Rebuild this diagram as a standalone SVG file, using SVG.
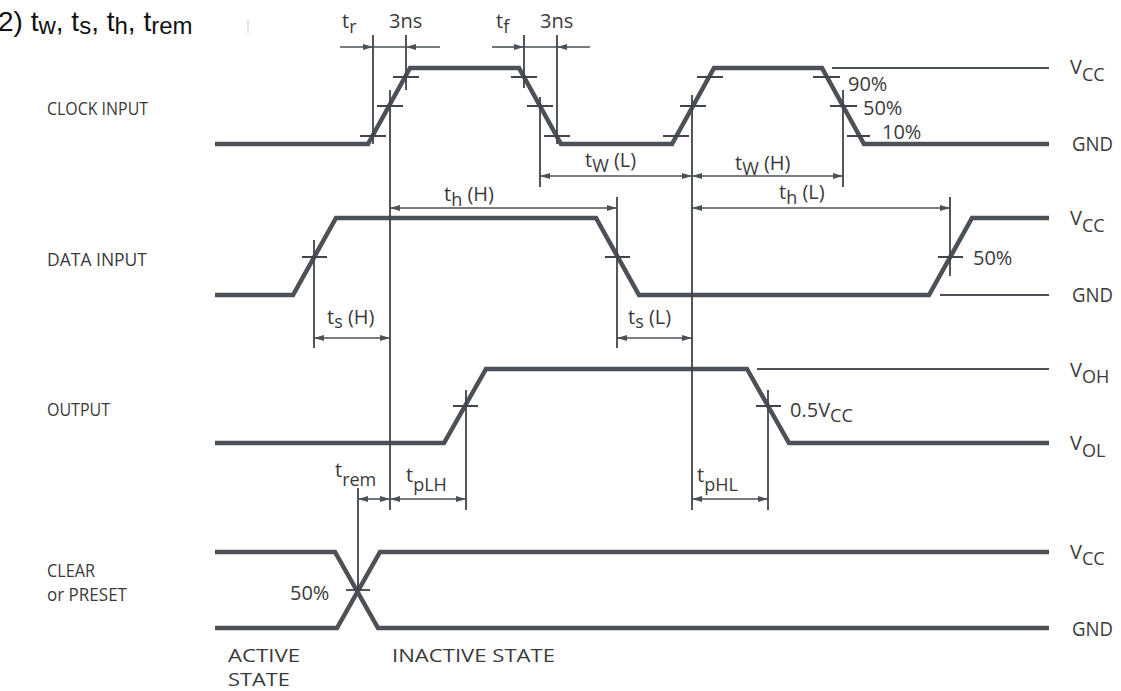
<svg xmlns="http://www.w3.org/2000/svg" width="1121" height="691" viewBox="0 0 1121 691">
<defs>
<marker id="ah" viewBox="0 0 10 6" refX="10" refY="3" markerWidth="10" markerHeight="6" markerUnits="userSpaceOnUse" orient="auto-start-reverse"><path d="M0,0 L10,3 L0,6 Z" fill="#4b5157"/></marker>
<style>
.sig{fill:none;stroke:#4b5157;stroke-width:4.5;stroke-linejoin:miter}
.ref{fill:none;stroke:#4b5157;stroke-width:2}
.ext{fill:none;stroke:#3f454b;stroke-width:1.8}
.tick{fill:none;stroke:#3f454b;stroke-width:1.8}
.dim{fill:none;stroke:#4b5157;stroke-width:1.6}
.lbl{font-family:"Open Sans","Noto Sans",sans-serif;font-size:20px;fill:#3a3a3a}
.sub{font-size:18px}
.name{font-family:"Open Sans","Noto Sans",sans-serif;font-size:19px;fill:#3a3a3a}
.ttl{font-family:"Liberation Sans",Arial,sans-serif;font-size:28px;fill:#111}
.ts{font-size:24px}
</style>
</defs>
<rect width="1121" height="691" fill="#ffffff"/>

<g id="title">
<text class="ttl" x="-2" y="31">2) t<tspan class="ts" dy="3">w</tspan><tspan dy="-3">, t</tspan><tspan class="ts" dy="3">s</tspan><tspan dy="-3">, t</tspan><tspan class="ts" dy="3">h</tspan><tspan dy="-3">, t</tspan><tspan class="ts" dy="3">rem</tspan></text>
<line x1="248" y1="20" x2="248" y2="33" stroke="#c8c8c8" stroke-width="1"/>
</g>

<g id="row-labels">
<text class="name" x="47" y="115" textLength="101" lengthAdjust="spacingAndGlyphs">CLOCK INPUT</text>
<text class="name" x="47" y="266" textLength="100" lengthAdjust="spacingAndGlyphs">DATA INPUT</text>
<text class="name" x="47" y="416" textLength="63" lengthAdjust="spacingAndGlyphs">OUTPUT</text>
<text class="name" x="47" y="577" textLength="48" lengthAdjust="spacingAndGlyphs">CLEAR</text>
<text class="name" x="47" y="601" textLength="80" lengthAdjust="spacingAndGlyphs">or PRESET</text>
<text class="name" x="228" y="662" textLength="72" lengthAdjust="spacingAndGlyphs">ACTIVE</text>
<text class="name" x="228" y="686" textLength="62" lengthAdjust="spacingAndGlyphs">STATE</text>
<text class="name" x="392" y="662" textLength="163" lengthAdjust="spacingAndGlyphs">INACTIVE STATE</text>
</g>

<g id="level-labels">
<text class="lbl" x="1070" y="74">V<tspan class="sub" dy="7">CC</tspan></text>
<text class="lbl" x="1072" y="151" textLength="41" lengthAdjust="spacingAndGlyphs">GND</text>
<text class="lbl" x="1070" y="225">V<tspan class="sub" dy="7">CC</tspan></text>
<text class="lbl" x="1072" y="302" textLength="41" lengthAdjust="spacingAndGlyphs">GND</text>
<text class="lbl" x="1070" y="377">V<tspan class="sub" dy="6">OH</tspan></text>
<text class="lbl" x="1070" y="450">V<tspan class="sub" dy="7">OL</tspan></text>
<text class="lbl" x="1070" y="559">V<tspan class="sub" dy="6">CC</tspan></text>
<text class="lbl" x="1072" y="636" textLength="41" lengthAdjust="spacingAndGlyphs">GND</text>
</g>

<g id="clock-input">
<path class="sig" d="M215,144 H368 L410,68 H519 L561,144 H672 L714,68 H822 L864,144 H1049"/>
<line class="ref" x1="832" y1="68" x2="1049" y2="68"/>
<path class="tick" d="M360,136 H386 M377,106 H403 M393,77 H419 M511,77 H537 M527,106 H553 M544,136 H570 M663,136 H689 M680,106 H706 M697,77 H723 M813,77 H840 M830,106 H857 M847,136 H870"/>
<text class="lbl" x="848" y="91">90%</text>
<text class="lbl" x="863" y="115">50%</text>
<text class="lbl" x="882" y="139">10%</text>
</g>

<g id="data-input">
<path class="sig" d="M215,295 H293 L336,218 H596 L639,295 H929 L972,218 H1049"/>
<line class="ref" x1="940" y1="295" x2="1049" y2="295"/>
<path class="tick" d="M302,257 H327 M605,257 H630 M938,257 H963"/>
<text class="lbl" x="973" y="265">50%</text>
</g>

<g id="output">
<path class="sig" d="M215,443 H444 L486,369 H747 L789,443 H1049"/>
<line class="ref" x1="757" y1="369" x2="1049" y2="369"/>
<path class="tick" d="M453,406 H478 M756,406 H781"/>
<text class="lbl" x="790" y="417">0.5V<tspan class="sub" dy="5">CC</tspan></text>
</g>

<g id="clear-preset">
<path class="sig" d="M215,552 H335 L378,628 H1049"/>
<path class="sig" d="M215,628 H337 L380,552 H1049"/>
<path class="tick" d="M346,590 H370"/>
<text class="lbl" x="290" y="600">50%</text>
</g>

<g id="connectors">
<path class="ext" d="M373,35 V144 M406,35 V90 M390,90 V510 M524,35 V88 M557,35 V144 M540,97 V187 M692,95 V510 M843,90 V187 M950,197 V276 M314,240 V348 M617,197 V348 M466,390 V510 M768,390 V510 M358,488 V590"/>
<line class="dim" x1="340" y1="47" x2="373" y2="47" marker-end="url(#ah)"/>
<line class="dim" x1="373" y1="47" x2="406" y2="47"/>
<line class="dim" x1="440" y1="47" x2="406" y2="47" marker-end="url(#ah)"/>
<line class="dim" x1="492" y1="47" x2="524" y2="47" marker-end="url(#ah)"/>
<line class="dim" x1="524" y1="47" x2="557" y2="47"/>
<line class="dim" x1="590" y1="47" x2="557" y2="47" marker-end="url(#ah)"/>
<line class="dim" x1="540" y1="176" x2="692" y2="176" marker-start="url(#ah)" marker-end="url(#ah)"/>
<line class="dim" x1="692" y1="176" x2="843" y2="176" marker-start="url(#ah)" marker-end="url(#ah)"/>
<line class="dim" x1="390" y1="208" x2="617" y2="208" marker-start="url(#ah)" marker-end="url(#ah)"/>
<line class="dim" x1="692" y1="208" x2="950" y2="208" marker-start="url(#ah)" marker-end="url(#ah)"/>
<line class="dim" x1="314" y1="338" x2="390" y2="338" marker-start="url(#ah)" marker-end="url(#ah)"/>
<line class="dim" x1="617" y1="338" x2="692" y2="338" marker-start="url(#ah)" marker-end="url(#ah)"/>
<line class="dim" x1="358" y1="499" x2="390" y2="499" marker-start="url(#ah)" marker-end="url(#ah)"/>
<line class="dim" x1="390" y1="499" x2="466" y2="499" marker-start="url(#ah)" marker-end="url(#ah)"/>
<line class="dim" x1="692" y1="499" x2="768" y2="499" marker-start="url(#ah)" marker-end="url(#ah)"/>
</g>

<g id="timing-labels">
<text class="lbl" x="342" y="28">t<tspan class="sub" dy="5">r</tspan></text>
<text class="lbl" x="389" y="28">3ns</text>
<text class="lbl" x="496" y="28">t<tspan class="sub" dy="5">f</tspan></text>
<text class="lbl" x="540" y="28">3ns</text>
<text class="lbl" x="585" y="167">t<tspan class="sub" dy="5">W</tspan><tspan dy="-5"> (L)</tspan></text>
<text class="lbl" x="735" y="170">t<tspan class="sub" dy="5">W</tspan><tspan dy="-5"> (H)</tspan></text>
<text class="lbl" x="444" y="201">t<tspan class="sub" dy="5">h</tspan><tspan dy="-5"> (H)</tspan></text>
<text class="lbl" x="779" y="199">t<tspan class="sub" dy="5">h</tspan><tspan dy="-5"> (L)</tspan></text>
<text class="lbl" x="327" y="324">t<tspan class="sub" dy="4">s</tspan><tspan dy="-4"> (H)</tspan></text>
<text class="lbl" x="628" y="324">t<tspan class="sub" dy="4">s</tspan><tspan dy="-4"> (L)</tspan></text>
<text class="lbl" x="335" y="477">t<tspan class="sub" dy="9">rem</tspan></text>
<text class="lbl" x="406" y="482">t<tspan class="sub" dy="9">pLH</tspan></text>
<text class="lbl" x="697" y="482">t<tspan class="sub" dy="9">pHL</tspan></text>
</g>
</svg>
